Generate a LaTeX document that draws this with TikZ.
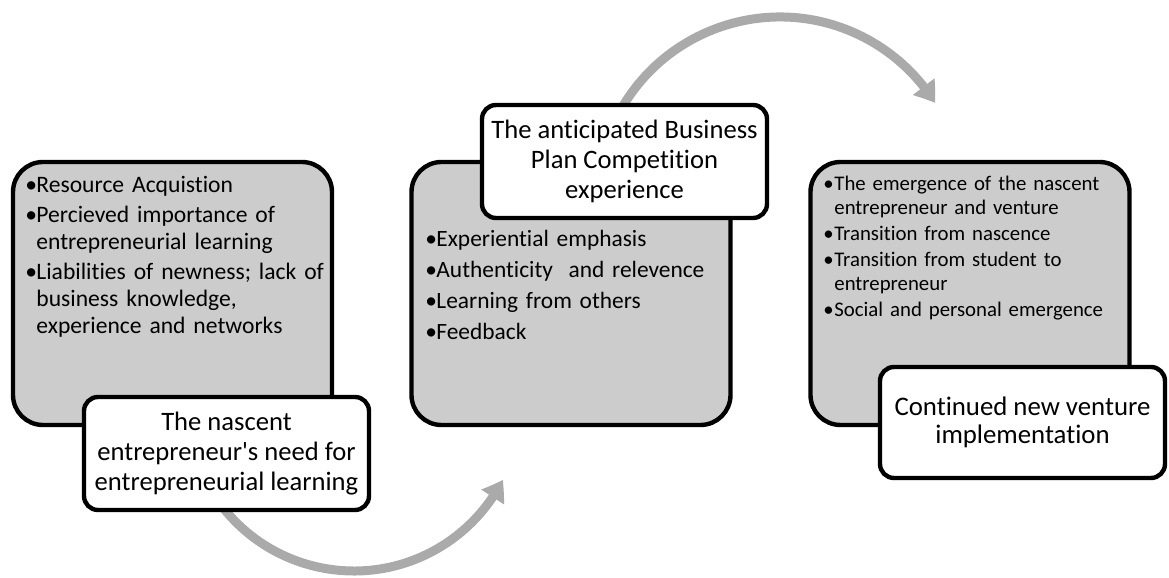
\documentclass[tikz,border=0pt]{standalone}
\usepackage{fontspec}
\setmainfont{Carlito}[Ligatures={TeXOff,NoCommon}]
\usetikzlibrary{arrows.meta,bending,positioning}

\definecolor{boxgrey}{HTML}{CCCCCC}
\definecolor{arcgrey}{HTML}{AAAAAA}
\newcommand{\bitem}[1]{\hangindent=5.5pt\hangafter=1\noindent\makebox[5.5pt][l]{\textbullet}#1\par}

\begin{document}
\begin{tikzpicture}[x=0.5pt, y=0.5pt,
  greybox/.style={draw, line width=2.2pt, fill=boxgrey, rounded corners=15pt, minimum width=159.5pt, minimum height=131.5pt, inner sep=0pt},
  labelbox/.style={draw, line width=2.2pt, fill=white, rounded corners=7pt, minimum width=142.5pt, minimum height=56.5pt, inner sep=0pt, align=center},
  itemtext/.style={anchor=north west, inner sep=0pt, text width=160pt, align=left},
  flowarc/.style={draw=arcgrey, line width=4.5pt, -{Triangle[length=10pt, width=13pt, bend]}}]
\useasboundingbox (0,0) rectangle (1169,578);

% grey boxes
\node (box1) [greybox] at (172.5,284.5) {};
\node (box2) [greybox] at (571,284.5) {};
\node (box3) [greybox] at (970,284.5) {};

% bullet lists
\node (list1) [itemtext, font=\fontsize{11.8}{13.5}\selectfont\setlength{\parskip}{1.5pt}] at (25,402)
  {\bitem{Resource Acquistion}
   \bitem{Percieved importance of\newline entrepreneurial learning}
   \bitem{Liabilities of newness; lack of\newline business knowledge,\newline experience and networks}};
\node (list2) [itemtext, font=\fontsize{11.7}{13.5}\selectfont\setlength{\parskip}{2pt}] at (425,348)
  {\bitem{Experiential emphasis}
   \bitem{Authenticity\ \ and relevence}
   \bitem{Learning from others}
   \bitem{Feedback}};
\node (list3) [itemtext, font=\fontsize{10.4}{12}\selectfont\setlength{\parskip}{1pt}] at (823,402)
  {\bitem{The emergence of the nascent\newline entrepreneur and venture}
   \bitem{Transition from nascence}
   \bitem{Transition from student to\newline entrepreneur}
   \bitem{Social and personal emergence}};

% arcs between the stages
\coordinate (arcA) at ([shift={(213:167)}]354,174);
\coordinate (arcB) at ([shift={(155:183)}]780,378);
\draw [flowarc] (arcA) arc [start angle=213, end angle=333, radius=167];
\draw [flowarc] (arcB) arc [start angle=155, end angle=32, radius=183];

% stage labels
\node (lbl1) [labelbox, font=\fontsize{13.3}{15}\selectfont] at (226.5,124.5)
  {The nascent\\entrepreneur's need for\\entrepreneurial learning};
\node (lbl2) [labelbox, font=\fontsize{13.3}{15}\selectfont] at (624.5,416.5)
  {The anticipated Business\\Plan Competition\\experience};
\node (lbl3) [labelbox, font=\fontsize{13.4}{14}\selectfont, minimum height=55.5pt] at (1022.5,155.5)
  {Continued new venture\\implementation};
\end{tikzpicture}
\end{document}
